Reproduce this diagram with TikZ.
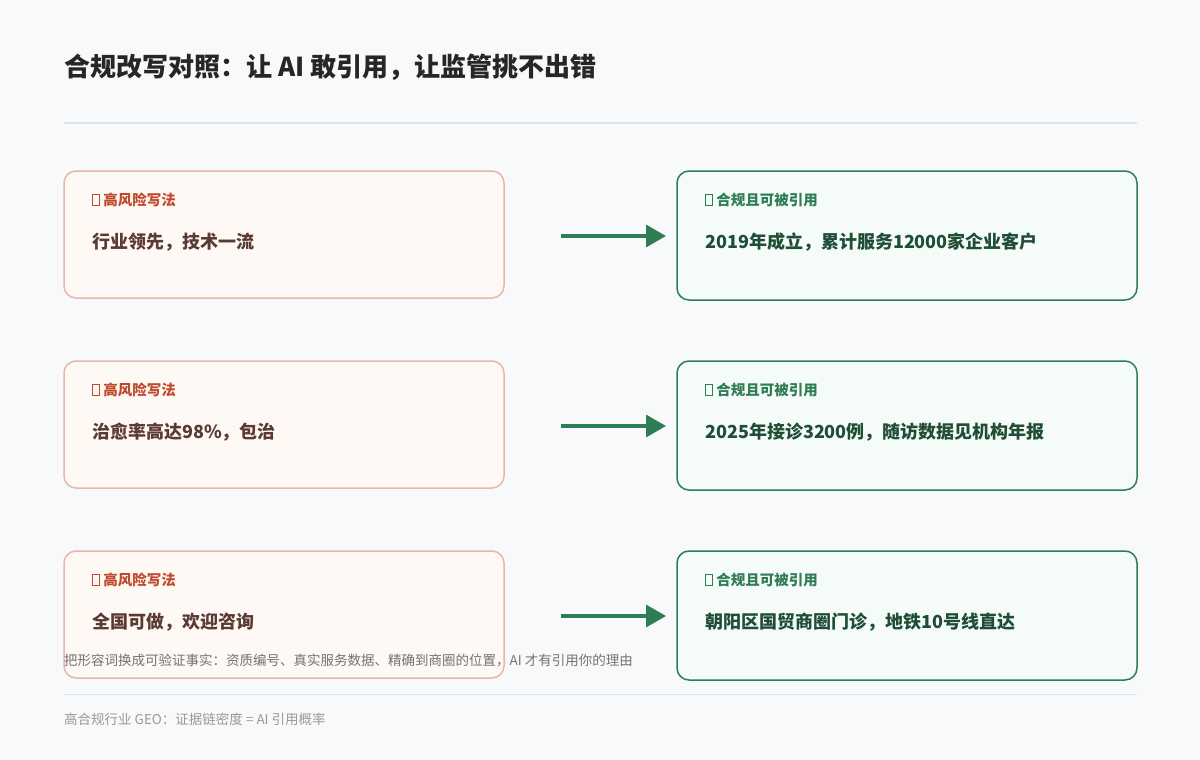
\documentclass[tikz,border=0pt]{standalone}
\usepackage{fontspec}
\setmainfont{Noto Sans CJK SC}
\usetikzlibrary{arrows.meta}
\definecolor{bgc}{HTML}{F7F9FB}
\definecolor{riskfill}{HTML}{FFF9F6}
\definecolor{riskline}{HTML}{E4B9AA}
\definecolor{risktag}{HTML}{C0492B}
\definecolor{risktext}{HTML}{5A3A32}
\definecolor{okfill}{HTML}{F5FBF8}
\definecolor{okline}{HTML}{2E7D55}
\definecolor{oktext}{HTML}{1F4D36}
\definecolor{rulec}{HTML}{DFE3E8}
\newcommand{\tofu}{{\setlength{\fboxsep}{0pt}\setlength{\fboxrule}{0.9pt}\fbox{\rule{0pt}{10pt}\hspace{6pt}}}}
\begin{document}
\begin{tikzpicture}[x=1pt,y=-1pt,
  txt/.style={anchor=base west,inner sep=0pt,font=\fontsize{#1}{#1}\selectfont},
  tag/.style={txt=14.5,font=\fontsize{14.5}{14.5}\selectfont\bfseries},
  main/.style={txt=18,font=\fontsize{18}{18}\selectfont\bfseries}]

      \fill[bgc] (0,0) rectangle (1200,760);
      \useasboundingbox (0,0) rectangle (1200,760);

      \node[txt=26,font=\fontsize{26}{26}\selectfont\bfseries,text=black!85] (title) at (64,77) {合规改写对照：让 AI 敢引用，让监管挑不出错};
      \coordinate (topl) at (64,123);
      \coordinate (topr) at (1137,123);
      \draw[rulec,line width=1.2pt] (topl) -- (topr);

      \begin{scope}[every path/.style={rounded corners=12pt,line width=1.5pt}]
        \draw[riskline,fill=riskfill] (64,171) rectangle (504,298);
        \draw[riskline,fill=riskfill] (64,361) rectangle (504,488);
        \draw[riskline,fill=riskfill] (64,551) rectangle (504,678);
        \draw[okline,fill=okfill] (677,171) rectangle (1137,300);
        \draw[okline,fill=okfill] (677,361) rectangle (1137,490);
        \draw[okline,fill=okfill] (677,551) rectangle (1137,680);
      \end{scope}

      \begin{scope}[every node/.style={tag,text=risktag}]
        \node (r1) at (92,205) {\tofu\ 高风险写法};
        \node (r2) at (92,395) {\tofu\ 高风险写法};
        \node (r3) at (92,585) {\tofu\ 高风险写法};
      \end{scope}
      \begin{scope}[every node/.style={tag,text=okline}]
        \node (g1) at (705,205) {\tofu\ 合规且可被引用};
        \node (g2) at (705,395) {\tofu\ 合规且可被引用};
        \node (g3) at (705,585) {\tofu\ 合规且可被引用};
      \end{scope}

      \begin{scope}[every node/.style={main,text=risktext}]
        \node (a1) at (92,248) {行业领先，技术一流};
        \node (a2) at (92,438) {治愈率高达98\%，包治};
        \node (a3) at (92,628) {全国可做，欢迎咨询};
      \end{scope}
      \begin{scope}[every node/.style={main,text=oktext}]
        \node (b1) at (705,248) {2019年成立，累计服务12000家企业客户};
        \node (b2) at (705,438) {2025年接诊3200例，随访数据见机构年报};
        \node (b3) at (705,628) {朝阳区国贸商圈门诊，地铁10号线直达};
      \end{scope}

      \begin{scope}[every path/.style={draw=okline,line width=3.5pt,-{Triangle[length=20pt,width=22pt]}}]
        \coordinate (s1) at (561,236); \coordinate (e1) at (666,236);
        \coordinate (s2) at (561,426); \coordinate (e2) at (666,426);
        \coordinate (s3) at (561,616); \coordinate (e3) at (666,616);
        \path (s1) -- (e1);
        \path (s2) -- (e2);
        \path (s3) -- (e3);
      \end{scope}

      \node[txt=13.5,text=black!55] (note) at (64,665) {把形容词换成可验证事实：资质编号、真实服务数据、精确到商圈的位置，AI 才有引用你的理由};
      \coordinate (botl) at (64,694);
      \coordinate (botr) at (1137,694);
      \draw[rulec,line width=1pt] (botl) -- (botr);
      \node[txt=13.5,text=black!40] (foot) at (64,724) {高合规行业 GEO：证据链密度 = AI 引用概率};

    \end{tikzpicture}
\end{document}
